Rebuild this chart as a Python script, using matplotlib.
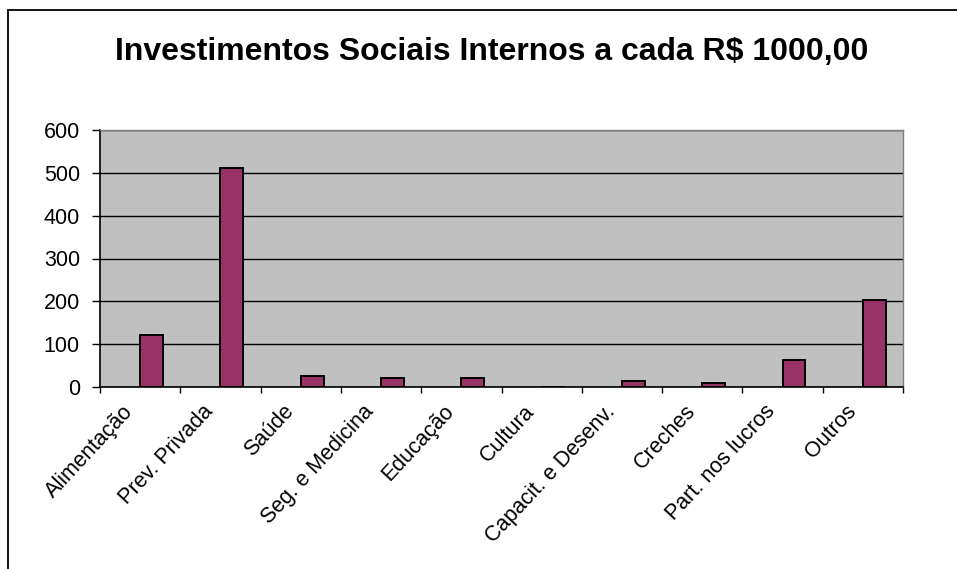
import matplotlib
matplotlib.use("Agg")
import matplotlib.pyplot as plt
from matplotlib.patches import Rectangle
from matplotlib.transforms import ScaledTranslation
import numpy as np

categories = ["Alimentação", "Prev. Privada", "Saúde", "Seg. e Medicina", "Educação",
              "Cultura", "Capacit. e Desenv.", "Creches", "Part. nos lucros", "Outros"]
values = [122, 512, 26, 22, 22, 0, 14, 9, 64, 204]
y_ticks = [0, 100, 200, 300, 400, 500, 600]
title = "Investimentos Sociais Internos a cada R$ 1000,00"

FONT = ["Liberation Sans", "DejaVu Sans"]
W, H, DPI = 957, 569, 100

fig = plt.figure(figsize=(W / DPI, H / DPI), dpi=DPI)
fig.patch.set_facecolor("white")

# chart-area border (runs off the right and bottom edges)
fig.patches.append(Rectangle((8 / W, -0.2), 1.5, 1.2 - 10 / H, transform=fig.transFigure,
                             fill=False, edgecolor="black", linewidth=1.3))

ax = fig.add_axes([100 / W, 1 - 387 / H, (903 - 100) / W, (387 - 130) / H])
ax.set_facecolor("#C0C0C0")

x = np.arange(len(categories))
ax.bar(x, values, width=0.285, align="edge", color="#993366",
       edgecolor="black", linewidth=1.4, zorder=3)

ax.set_xlim(-0.5, len(categories) - 0.5)
ax.set_ylim(y_ticks[0], y_ticks[-1])
ax.set_yticks(y_ticks)
ax.set_yticklabels([str(v) for v in y_ticks], fontfamily=FONT, fontsize=15.5)
ax.yaxis.grid(True, color="black", linewidth=1.0, zorder=1)
ax.set_axisbelow(True)

ax.set_xticks(x)
ax.set_xticklabels(categories, rotation=47, ha="right", va="top",
                   rotation_mode="anchor", fontfamily=FONT, fontsize=15.5)
ax.set_xticks(np.arange(len(categories) + 1) - 0.5, minor=True)
ax.tick_params(axis="x", which="major", length=0, pad=10)
ax.tick_params(axis="x", which="minor", length=4.3, width=1.0, color="black", direction="out")
ax.tick_params(axis="y", length=6, width=1.0, color="black", pad=8.5)
for lbl in ax.get_xticklabels():
    lbl.set_transform(lbl.get_transform() + ScaledTranslation(-18 / DPI, 0, fig.dpi_scale_trans))

for side in ("left", "bottom"):
    ax.spines[side].set_color("black")
    ax.spines[side].set_linewidth(1.2)
for side in ("top", "right"):
    ax.spines[side].set_color("#808080")
    ax.spines[side].set_linewidth(1.0)

fig.text(491.5 / W, 1 - 52 / H, title, ha="center", va="center",
         fontfamily=FONT, fontsize=23, fontweight="bold")

fig.savefig("out.png", dpi=DPI)
